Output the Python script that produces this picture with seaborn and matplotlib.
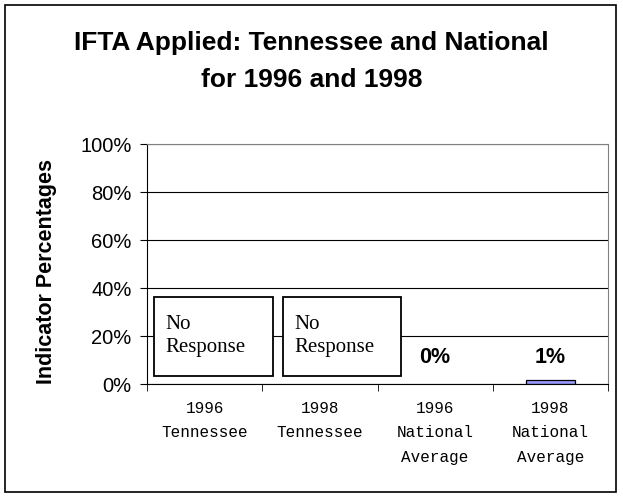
import numpy as np
import pandas as pd
import matplotlib
matplotlib.use("Agg")
import matplotlib.pyplot as plt
import seaborn as sns
from matplotlib.patches import Rectangle
from matplotlib.ticker import PercentFormatter, FixedLocator

# data
categories = ["1996\nTennessee", "1998\nTennessee", "1996\nNational\nAverage", "1998\nNational\nAverage"]
values = [np.nan, np.nan, 0, 1.5]
value_labels = ["No\nResponse", "No\nResponse", "0%", "1%"]

df = pd.DataFrame({"group": categories, "pct": values})

sns.set_style("white")
plt.rcParams["font.family"] = ["Liberation Sans", "DejaVu Sans"]
plt.rcParams["text.color"] = "black"
plt.rcParams["axes.labelcolor"] = "black"
plt.rcParams["xtick.color"] = "black"
plt.rcParams["ytick.color"] = "black"

fig = plt.figure(figsize=(6.23, 4.98), dpi=100)
ax = fig.add_axes([147 / 623, 1 - 384 / 498, 461 / 623, 240 / 498])

sns.barplot(data=df, x="group", y="pct", color="#9999FF", edgecolor="black",
            linewidth=0.9, width=0.42, saturation=1, ax=ax)
# zero-height bars are not visible in the reference
for p in ax.patches:
    if p.get_height() == 0:
        p.set_visible(False)

ax.set_ylim(0, 100)
ax.set_xlim(-0.5, len(categories) - 0.5)
ax.yaxis.set_major_formatter(PercentFormatter(decimals=0))
ax.set_yticks(range(0, 101, 20))
ax.grid(axis="y", color="black", linewidth=0.8)
ax.set_axisbelow(True)
ax.tick_params(axis="y", labelsize=14.5, length=5, direction="out", left=True, pad=6)

# category ticks sit between groups
ax.tick_params(axis="x", which="major", length=0, pad=12)
ax.xaxis.set_minor_locator(FixedLocator(np.arange(-0.5, len(categories), 1)))
ax.tick_params(axis="x", which="minor", length=5, bottom=True)
for lbl in ax.get_xticklabels():
    lbl.set_fontfamily("Liberation Mono")
    lbl.set_fontsize(11.5)
    lbl.set_linespacing(1.8)
    lbl.set_verticalalignment("top")

ax.set_xlabel("")
ax.set_ylabel("Indicator Percentages", fontsize=15.5, fontweight="bold")
ax.yaxis.set_label_coords(-0.195, 0.47)

for side in ["top", "right"]:
    ax.spines[side].set_color("#808080")
ax.spines["left"].set_color("black")
ax.spines["bottom"].set_color("black")

# value labels / "No Response" boxes
box_offsets = [(-0.44, 1.03), (-0.32, 1.02)]
for i, (v, lab) in enumerate(zip(values, value_labels)):
    if np.isnan(v):
        x0, w = box_offsets[i]
        ax.add_patch(Rectangle((i + x0, 3.3), w, 33, facecolor="white",
                               edgecolor="black", linewidth=1.3, zorder=3))
        ax.text(i + x0 + 0.1, 20, lab, fontsize=15, family="Liberation Serif",
                va="center", ha="left", linespacing=1.25, zorder=4)
    else:
        ax.text(i, 11, lab, fontsize=15.5, fontweight="bold", ha="center", va="center")

fig.text(0.5, 1 - 43 / 498, "IFTA Applied: Tennessee and National", ha="center", va="center",
         fontsize=19, fontweight="bold")
fig.text(0.5, 1 - 80 / 498, "for 1996 and 1998", ha="center", va="center",
         fontsize=19, fontweight="bold")

# outer chart border
fig.patches.append(Rectangle((5 / 623, 6 / 498), 611 / 623, 487 / 498, transform=fig.transFigure,
                             fill=False, edgecolor="black", linewidth=1.2))

fig.savefig("out.png", dpi=100)
